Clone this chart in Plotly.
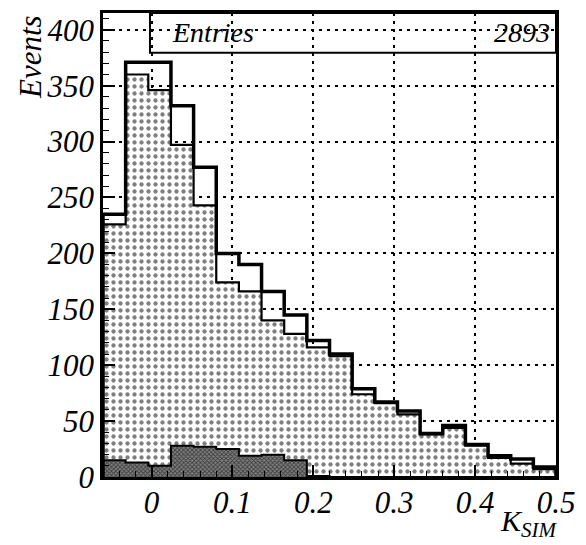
import plotly.graph_objects as go

# ---- data ----
bin_lo = -0.06
bin_w = 0.028
n_bins = 20
edges = [round(bin_lo + i * bin_w, 4) for i in range(n_bins + 1)]
centers = [round(bin_lo + (i + 0.5) * bin_w, 4) for i in range(n_bins)]

open_counts = [235, 371, 371, 332, 277, 200, 190, 166, 145, 122,
               110, 79, 67, 59, 39, 46, 29, 19, 16, 9]
shaded_counts = [226, 360, 346, 297, 243, 174, 166, 140, 128, 116,
                 108, 74, 66, 56, 38, 44, 28, 17, 12, 7]
dark_counts = [15, 13, 10, 28, 27, 25, 19, 20, 15, 1,
               0, 0, 0, 0, 0, 0, 0, 0, 0, 0]

x_ticks = [0, 0.1, 0.2, 0.3, 0.4, 0.5]
x_tick_labels = ["0", "0.1", "0.2", "0.3", "0.4", "0.5"]
y_ticks = [0, 50, 100, 150, 200, 250, 300, 350, 400]
y_tick_labels = [str(v) for v in y_ticks]
entries = 2893

FONT = "Liberation Serif, Times New Roman, serif"

def step_xy(vals):
    xs = [edges[0]] + edges + [edges[-1]]
    ys = [0] + list(vals) + [vals[-1], 0]
    return xs, ys

fig = go.Figure()

fig.add_trace(go.Bar(
    x=centers, y=shaded_counts, width=[bin_w] * n_bins,
    marker=dict(color="white", line=dict(width=0),
                pattern=dict(shape=".", size=7, solidity=0.3,
                             fgcolor="black", bgcolor="white")),
    showlegend=False, hoverinfo="skip"))

fig.add_trace(go.Bar(
    x=centers, y=dark_counts, width=[bin_w] * n_bins,
    marker=dict(color="#555", line=dict(width=0),
                pattern=dict(shape="x", size=3, solidity=0.5,
                             fgcolor="black", bgcolor="#808080")),
    showlegend=False, hoverinfo="skip"))

xs, ys = step_xy(dark_counts)
fig.add_trace(go.Scatter(x=xs, y=ys, mode="lines", line=dict(color="black", width=2, shape="hv"),
                         showlegend=False, hoverinfo="skip"))
xs, ys = step_xy(shaded_counts)
fig.add_trace(go.Scatter(x=xs, y=ys, mode="lines", line=dict(color="black", width=2.2, shape="hv"),
                         showlegend=False, hoverinfo="skip"))
xs, ys = step_xy(open_counts)
fig.add_trace(go.Scatter(x=xs, y=ys, mode="lines", line=dict(color="black", width=3.5, shape="hv"),
                         showlegend=False, hoverinfo="skip"))

fig.update_layout(
    width=586, height=545,
    margin=dict(l=103, r=30, t=10, b=68),
    paper_bgcolor="white", plot_bgcolor="white",
    barmode="overlay", bargap=0,
    font=dict(family=FONT, color="black"),
)

fig.update_xaxes(
    range=[bin_lo, bin_lo + n_bins * bin_w],
    tickmode="array", tickvals=x_ticks,
    ticktext=["<i>%s</i>" % t for t in x_tick_labels],
    tickfont=dict(family=FONT, size=31, color="black"),
    ticklabelstandoff=-4,
    ticks="inside", ticklen=12, tickwidth=1.5, tickcolor="black",
    minor=dict(ticks="inside", ticklen=6, tickwidth=1, tickcolor="black", dtick=0.02, showgrid=False),
    showgrid=True, gridcolor="black", gridwidth=1.5, griddash="3px,5px",
    showline=True, linecolor="black", linewidth=2.5, mirror=True,
    zeroline=False,
)
fig.update_yaxes(
    range=[0, 415],
    tickmode="array", tickvals=y_ticks,
    ticktext=["<i>%s</i>" % t for t in y_tick_labels],
    tickfont=dict(family=FONT, size=31, color="black"),
    ticks="inside", ticklen=12, tickwidth=1.5, tickcolor="black",
    minor=dict(ticks="inside", ticklen=6, tickwidth=1, tickcolor="black", dtick=10, showgrid=False),
    showgrid=True, gridcolor="black", gridwidth=1.5, griddash="3px,5px",
    showline=True, linecolor="black", linewidth=2.5, mirror=True,
    zeroline=False,
)

# Entries box
fig.add_shape(type="rect", xref="paper", yref="paper",
              x0=(150 - 103) / 453, x1=1.0, y0=(476.5 - 50) / 466.5, y1=1.0,
              line=dict(color="black", width=2), fillcolor="rgba(0,0,0,0)")
fig.add_annotation(xref="paper", yref="paper", x=(170 - 103) / 453, y=(476.5 - 30) / 466.5,
                   text="<i>Entries</i>", showarrow=False, xanchor="left", yanchor="middle",
                   font=dict(family=FONT, size=28, color="black"))
fig.add_annotation(xref="paper", yref="paper", x=(552 - 103) / 453, y=(476.5 - 30) / 466.5,
                   text="<i>%d</i>" % entries, showarrow=False, xanchor="right", yanchor="middle",
                   font=dict(family=FONT, size=28, color="black"))

# axis titles
fig.add_annotation(xref="paper", yref="paper", x=(560 - 103) / 453, y=-(523 - 476.5) / 466.5,
                   text="<i>K<sub>SIM</sub></i>", showarrow=False, xanchor="right", yanchor="middle",
                   font=dict(family=FONT, size=30, color="black"))
fig.add_annotation(xref="paper", yref="paper", x=-(103 - 30) / 453, y=1.0,
                   text="<i>Events</i>", showarrow=False, textangle=-90,
                   xanchor="center", yanchor="top",
                   font=dict(family=FONT, size=31, color="black"))

fig.write_html("out.html")
